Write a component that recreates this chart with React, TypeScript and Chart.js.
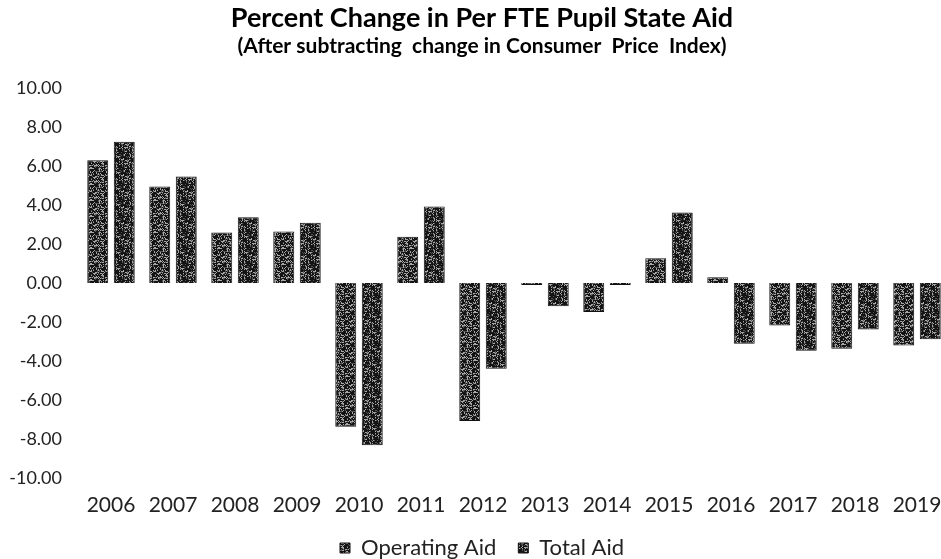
import React, { useEffect, useRef } from "react";
import { Chart, registerables } from "chart.js";

Chart.register(...registerables);

const years = ["2006", "2007", "2008", "2009", "2010", "2011", "2012", "2013", "2014", "2015", "2016", "2017", "2018", "2019"];
const operatingAid = [6.29, 4.95, 2.59, 2.64, -7.37, 2.37, -7.08, -0.1, -1.49, 1.27, 0.3, -2.18, -3.37, -3.2];
const totalAid = [7.25, 5.46, 3.37, 3.09, -8.32, 3.92, -4.4, -1.19, -0.1, 3.62, -3.11, -3.47, -2.39, -2.89];
const titleText = "Percent Change in Per FTE Pupil State Aid";
const subtitleText = "(After subtracting  change in Consumer  Price  Index)";

function makePattern(seed: number): CanvasPattern | string {
  const c = document.createElement("canvas");
  c.width = 16;
  c.height = 16;
  const ctx = c.getContext("2d");
  if (!ctx) return "#2a2a2a";
  ctx.fillStyle = "#141414";
  ctx.fillRect(0, 0, 16, 16);
  for (let x = 0; x < 16; x++) {
    for (let y = 0; y < 16; y++) {
      const h = ((x * 73856093) ^ (y * 19349663) ^ seed) >>> 0;
      if (h % 5 === 0) {
        ctx.fillStyle = "#a8a8a8";
        ctx.fillRect(x, y, 1, 1);
      } else if (h % 7 === 0) {
        ctx.fillStyle = "#555555";
        ctx.fillRect(x, y, 1, 1);
      }
    }
  }
  const p = ctx.createPattern(c, "repeat");
  return p || "#2a2a2a";
}

export default function App() {
  const ref = useRef<HTMLCanvasElement | null>(null);
  useEffect(() => {
    if (!ref.current) return;
    const p1 = makePattern(12345);
    const p2 = makePattern(98765);
    const chart = new Chart(ref.current, {
      type: "bar",
      data: {
        labels: years,
        datasets: [
          { label: "Operating Aid", data: operatingAid, backgroundColor: p1 as any, borderColor: "#111", borderWidth: 1, yAxisID: "y" },
          { label: "Total Aid", data: totalAid, backgroundColor: p2 as any, borderColor: "#111", borderWidth: 1, yAxisID: "y" },
        ],
      },
      options: {
        animation: false,
        responsive: false,
        maintainAspectRatio: false,
        layout: { padding: { left: 0, right: 0, top: 3, bottom: 1 } },
        datasets: { bar: { categoryPercentage: 0.855, barPercentage: 0.79 } } as any,
        plugins: {
          title: {
            display: true,
            text: titleText,
            color: "#000",
            font: { family: "Lato", size: 27, weight: "bold", lineHeight: 1.15 },
            padding: { top: 0, bottom: 0 },
          },
          subtitle: {
            display: true,
            text: subtitleText,
            color: "#000",
            font: { family: "Lato", size: 21, weight: "bold" },
            padding: { top: 0, bottom: 28.75 },
          },
          legend: {
            position: "bottom",
            labels: {
              color: "#222",
              font: { family: "Lato", size: 22 },
              boxWidth: 10,
              boxHeight: 10,
              padding: 22,
            },
          },
          tooltip: { enabled: false },
        },
        scales: {
          x: {
            grid: { display: false, drawTicks: false },
            border: { display: false },
            afterFit: (axis: any) => {
              axis.height = 37;
            },
            ticks: { color: "#222", font: { family: "Lato", size: 21 }, padding: 15, maxRotation: 0 },
          },
          y: {
            position: "left",
            min: -10,
            max: 10,
            grid: { display: false, drawTicks: false },
            border: { display: false },
            afterFit: (axis: any) => {
              axis.width = 80;
            },
            ticks: {
              stepSize: 2,
              color: "#222",
              font: { family: "Lato", size: 18 },
              padding: 18,
              callback: (v: any) => Number(v).toFixed(2),
            },
          },
          yRight: {
            position: "right",
            display: true,
            min: -10,
            max: 10,
            grid: { display: false, drawTicks: false },
            border: { display: false },
            ticks: { display: false },
            afterFit: (axis: any) => {
              axis.width = 16;
            },
          },
        },
      },
    });
    return () => chart.destroy();
  }, []);
  return (
    <div style={{ position: "fixed", left: 0, top: 0, width: 941, height: 559, overflow: "hidden", background: "#fff" }}>
      <canvas ref={ref} width={964} height={570} style={{ display: "block", width: 964, height: 570 }} />
    </div>
  );
}
